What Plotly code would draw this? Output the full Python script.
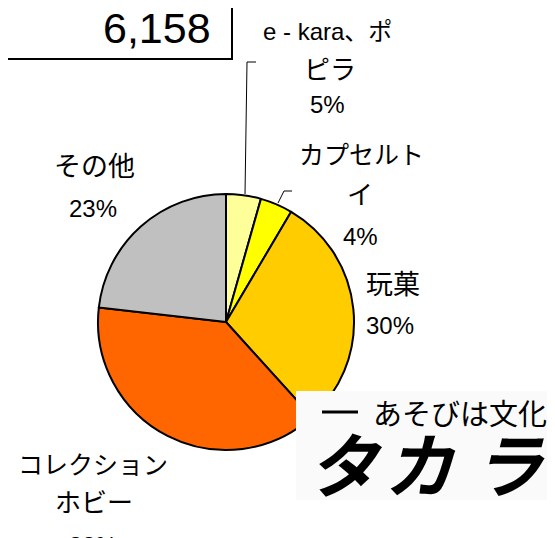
import plotly.graph_objects as go

# page body has an 8px margin, so the figure is drawn 8px in from the corner
OFF = 8
W, H = 555 - OFF, 538 - OFF

# Data
categories = ["e-kara、ポピラ", "カプセルトイ", "玩菓", "コレクションホビー", "その他"]
shares = [4.4, 4.1, 29.8, 38.5, 23.2]
share_labels = ["5%", "4%", "30%", "38%", "23%"]
total_label = "6,158"
colors = ["#FFFF99", "#FFFF00", "#FFCC00", "#FF6600", "#C0C0C0"]

def px(x):
    return (x - OFF) / W

def py(y):
    return 1 - (y - OFF) / H

cx, cy, r = 226, 322, 128

fig = go.Figure(go.Pie(
    labels=categories,
    values=shares,
    sort=False,
    direction="clockwise",
    rotation=0,
    textinfo="none",
    hoverinfo="label+percent",
    marker=dict(colors=colors, line=dict(color="black", width=2)),
    domain=dict(x=[px(cx - r), px(cx + r)], y=[py(cy + r), py(cy - r)]),
    showlegend=False,
))

FONT = "Liberation Sans, Arial, Noto Sans CJK JP, sans-serif"
annotations = []

def label(text, x, y, size=24, color="black", family=FONT, xanchor="center"):
    annotations.append(dict(
        text=text, x=px(x), y=py(y), xref="paper", yref="paper",
        xanchor=xanchor, yanchor="middle", showarrow=False,
        font=dict(family=family, size=size, color=color),
    ))

# slice labels (each line placed separately)
label("e - kara、ポ", 327, 32, size=24)
label("ピラ", 330, 70, size=26)
label(share_labels[0], 327, 105)
label("カプセルト", 361, 155, size=25)
label("イ", 360, 195, size=26)
label(share_labels[1], 360, 236)
label(categories[2], 393, 285, size=27)
label(share_labels[2], 390, 325)
label("コレクション", 93, 465, size=25)
label("ホビー", 94, 503, size=26)
label(share_labels[3], 93, 545)
label(categories[4], 94, 167, size=27)
label(share_labels[4], 93, 208)

# total value box
label(total_label, 213, 28, size=43, xanchor="right")

# logo
LOGO = "Noto Sans CJK JP, sans-serif"
label("あそびは文化", 549, 412, size=29, family=LOGO, xanchor="right")
label("<b><i>タ</i></b>", 345, 461, size=70, family=LOGO)
label("<b><i>カ</i></b>", 420, 461, size=70, family=LOGO)
label("<b><i>ラ</i></b>", 509, 461, size=70, family=LOGO)

def P(x, y):
    return f"{px(x)},{py(y)}"

shapes = [
    dict(type="rect", xref="paper", yref="paper", x0=px(-3), x1=px(232),
         y0=py(59), y1=py(-3), line=dict(color="black", width=2),
         fillcolor="rgba(0,0,0,0)"),
    dict(type="path", xref="paper", yref="paper",
         path=f"M {P(256, 62)} L {P(247, 62)} L {P(245, 194)}",
         line=dict(color="black", width=1)),
    dict(type="path", xref="paper", yref="paper",
         path=f"M {P(292, 191)} L {P(284, 191)} L {P(278, 203)}",
         line=dict(color="black", width=1)),
    dict(type="rect", xref="paper", yref="paper", x0=px(296), x1=px(556),
         y0=py(500), y1=py(391), line=dict(width=0),
         fillcolor="#FAFAFA", layer="above"),
    dict(type="line", xref="paper", yref="paper", x0=px(322), x1=px(358),
         y0=py(412), y1=py(412), line=dict(color="black", width=3),
         layer="above"),
]

fig.update_layout(
    width=W, height=H,
    margin=dict(l=0, r=0, t=0, b=0),
    paper_bgcolor="white", plot_bgcolor="white",
    annotations=annotations,
    shapes=shapes,
)

fig.write_html("out.html")
